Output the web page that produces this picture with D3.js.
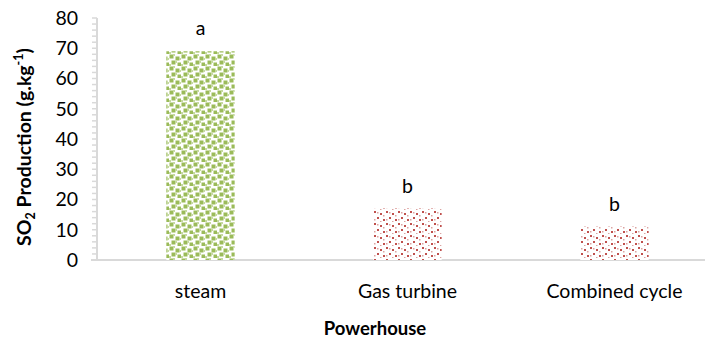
<!DOCTYPE html>
<html>
<head>
<meta charset="utf-8">
<script src="https://cdn.jsdelivr.net/npm/d3@7"></script>
<style>
  body { margin: 0; background: #fff; }
  svg { display: block; }
  text { font-family: Lato, "Open Sans", sans-serif; fill: #000; }
</style>
</head>
<body>
<div id="chart"></div>
<script>
var categories = ["steam", "Gas turbine", "Combined cycle"];
var values = [69, 17, 11];
var letters = ["a", "b", "b"];
var patterns = ["pGreen", "pRed", "pRed"];
var yTicks = [0, 10, 20, 30, 40, 50, 60, 70, 80];

var totalWidth = 705,
    totalHeight = 343;

var margin = {top: 18, right: -13, bottom: 83, left: 97};
var width = totalWidth - margin.left - margin.right,
    height = totalHeight - margin.top - margin.bottom;

var svg = d3.select("#chart").append("svg")
    .attr("width", totalWidth)
    .attr("height", totalHeight);

// fill patterns
var defs = svg.append("defs");

var pg = defs.append("pattern")
    .attr("id", "pGreen")
    .attr("patternUnits", "userSpaceOnUse")
    .attr("width", 12).attr("height", 12);
pg.append("rect").attr("width", 12).attr("height", 12).attr("fill", "#fff");
[[0, 0], [6, 2], [2, 6], [8, 8]].forEach(function(p) {
    pg.append("rect").attr("x", p[0] + 0.5).attr("y", p[1] + 0.5)
        .attr("width", 4).attr("height", 4).attr("fill", "#9bbb59");
});
[[4, 0], [10, 4], [0, 10], [6, 7]].forEach(function(p) {
    pg.append("rect").attr("x", p[0]).attr("y", p[1])
        .attr("width", 2).attr("height", 2).attr("fill", "#c5d9a0");
});

var pr = defs.append("pattern")
    .attr("id", "pRed")
    .attr("patternUnits", "userSpaceOnUse")
    .attr("width", 12).attr("height", 12);
pr.append("rect").attr("width", 12).attr("height", 12).attr("fill", "#fff");
[[1, 1], [7, 3], [4, 7], [10, 9]].forEach(function(p) {
    pr.append("rect").attr("x", p[0]).attr("y", p[1])
        .attr("width", 2).attr("height", 2).attr("fill", "#c0504d");
});
[[4, 2], [10, 5], [1, 9], [7, 11]].forEach(function(p) {
    pr.append("rect").attr("x", p[0]).attr("y", p[1])
        .attr("width", 1.5).attr("height", 1.5).attr("fill", "#dba3a1");
});

var g = svg.append("g")
    .attr("transform", "translate(" + margin.left + "," + margin.top + ")");

var xScale = d3.scaleBand()
    .domain(categories)
    .range([0, width])
    .paddingInner(0.67)
    .paddingOuter(0.335);

var yScale = d3.scaleLinear()
    .domain([0, 80])
    .range([height, 0]);

// minor ticks every 2
var minor = d3.range(0, 81, 2);
g.append("g").selectAll("line")
    .data(minor)
    .enter().append("line")
    .attr("x1", -5).attr("x2", 0)
    .attr("y1", function(d) { return yScale(d); })
    .attr("y2", function(d) { return yScale(d); })
    .attr("stroke", "#d9d9d9").attr("stroke-width", 1.5);

var yAxis = d3.axisLeft(yScale).tickValues(yTicks).tickSize(0).tickPadding(19);
var yG = g.append("g").call(yAxis);
yG.select(".domain").remove();
yG.selectAll("text")
    .style("font-size", "19.5px")
    .style("font-family", "Lato, sans-serif")
    .attr("fill", "#000");

// axis lines
g.append("line")
    .attr("x1", 0).attr("x2", 0)
    .attr("y1", yScale(80)).attr("y2", height)
    .attr("stroke", "#d9d9d9").attr("stroke-width", 2);
g.append("line")
    .attr("x1", -6).attr("x2", width)
    .attr("y1", height).attr("y2", height)
    .attr("stroke", "#d9d9d9").attr("stroke-width", 2);

// bars
g.selectAll(".bar")
    .data(values)
    .enter().append("rect")
    .attr("class", "bar")
    .attr("x", function(d, i) { return xScale(categories[i]); })
    .attr("width", xScale.bandwidth())
    .attr("y", function(d) { return yScale(d); })
    .attr("height", function(d) { return height - yScale(d); })
    .attr("fill", function(d, i) { return "url(#" + patterns[i] + ")"; });

// significance letters
g.selectAll(".letter")
    .data(values)
    .enter().append("text")
    .attr("class", "letter")
    .attr("x", function(d, i) { return xScale(categories[i]) + xScale.bandwidth() / 2; })
    .attr("y", function(d) { return yScale(d) - 16; })
    .attr("text-anchor", "middle")
    .style("font-size", "19.5px")
    .text(function(d, i) { return letters[i]; });

// category labels
g.selectAll(".cat")
    .data(categories)
    .enter().append("text")
    .attr("class", "cat")
    .attr("x", function(d) { return xScale(d) + xScale.bandwidth() / 2; })
    .attr("y", height + 38)
    .attr("text-anchor", "middle")
    .style("font-size", "19.5px")
    .text(function(d) { return d; });

// axis titles
svg.append("text")
    .attr("x", 375)
    .attr("y", 335)
    .attr("text-anchor", "middle")
    .style("font-size", "18.5px")
    .style("font-weight", "bold")
    .text("Powerhouse");

var yTitle = svg.append("text")
    .attr("transform", "translate(31," + 147 + ") rotate(-90)")
    .attr("text-anchor", "middle")
    .style("font-size", "19.5px")
    .style("font-weight", "bold");
yTitle.append("tspan").text("SO");
yTitle.append("tspan").attr("dy", 4).style("font-size", "12.5px").text("2");
yTitle.append("tspan").attr("dy", -4).text(" Production (g.kg");
yTitle.append("tspan").attr("dy", -8).style("font-size", "12.5px").text("-1");
yTitle.append("tspan").attr("dy", 8).text(")");
</script>
</body>
</html>
